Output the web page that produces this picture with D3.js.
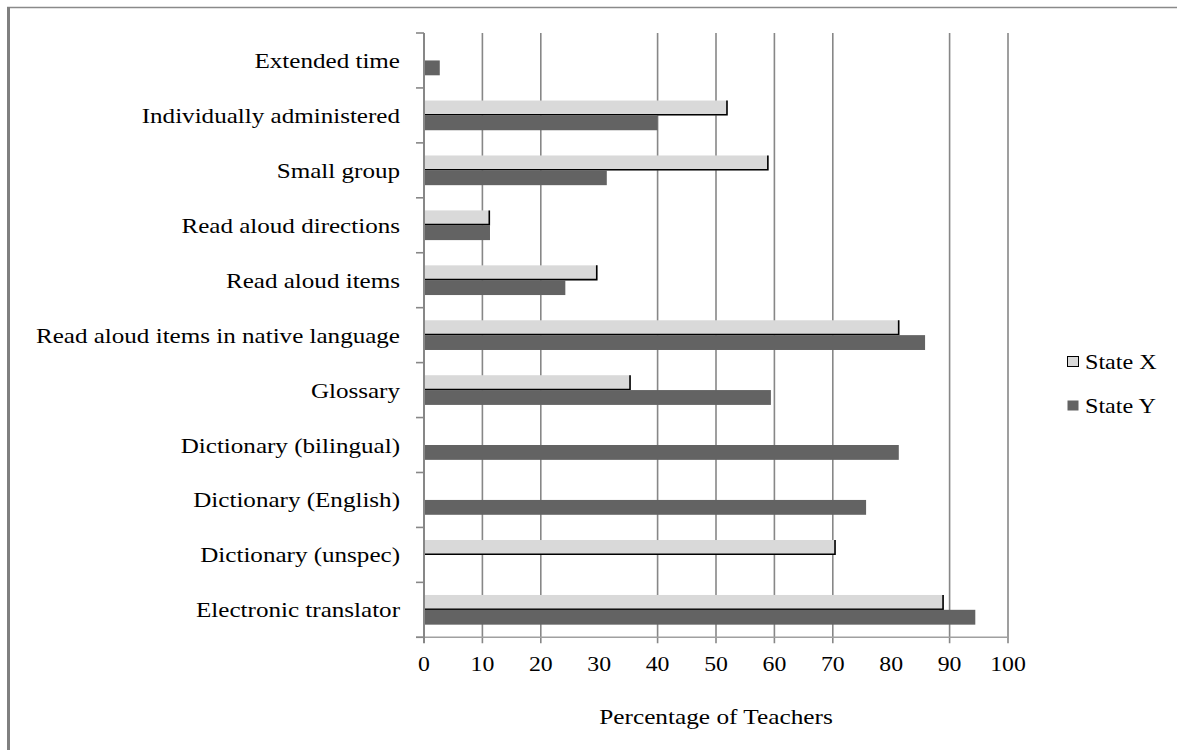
<!DOCTYPE html>
<html>
<head>
<meta charset="utf-8">
<script src="https://cdn.jsdelivr.net/npm/d3@7"></script>
<style>
  html, body { margin: 0; padding: 0; background: #fff; }
  svg { display: block; }
</style>
</head>
<body>
<svg id="chart" width="1177" height="750"></svg>
<script>
// ---- data ----
const categories = [
  "Extended time",
  "Individually administered",
  "Small group",
  "Read aloud directions",
  "Read aloud items",
  "Read aloud items in native language",
  "Glossary",
  "Dictionary (bilingual)",
  "Dictionary (English)",
  "Dictionary (unspec)",
  "Electronic translator"
];
const seriesNames = ["State X", "State Y"];
const stateX = [0, 52, 59, 11.3, 29.7, 81.4, 35.4, 0, 0, 70.5, 89];
const stateY = [2.7, 40, 31.3, 11.3, 24.2, 85.8, 59.4, 81.3, 75.7, 0, 94.4];
const xTicks = [0, 10, 20, 30, 40, 50, 60, 70, 80, 90, 100];
const gridTicks = [10, 20, 40, 50, 60, 70, 90, 100];
const xTitle = "Percentage of Teachers";

// ---- layout ----
const svg = d3.select("#chart");
const pL = 424, pR = 1008, pT = 33, pB = 637.3;
const gridColor = "#878787";
const fillX = "#d9d9d9", fillY = "#636363";
const FONT = "Liberation Serif";

const x = d3.scaleLinear().domain([0, 100]).range([pL, pR]);
const y = d3.scaleBand().domain(categories).range([pT, pB]).padding(0);
const ys = d3.scaleBand().domain(seriesNames).range([12.6, 42.3]);

// text placed at (tx,ty), stretched horizontally by sx
function addText(parent, tx, ty, str, size, sx, anchor) {
  const gg = parent.append("g").attr("transform", `translate(${tx},${ty}) scale(${sx},1)`);
  gg.append("text")
    .attr("x", 0).attr("y", 0)
    .attr("font-family", FONT).attr("font-size", size)
    .attr("text-anchor", anchor).attr("fill", "#000")
    .text(str);
  return gg;
}

// outer frame
svg.append("line").attr("x1", 7).attr("x2", 1177).attr("y1", 7.5).attr("y2", 7.5)
  .attr("stroke", "#8a8a8a").attr("stroke-width", 1.5);
svg.append("line").attr("x1", 8.5).attr("x2", 8.5).attr("y1", 7).attr("y2", 750)
  .attr("stroke", "#808080").attr("stroke-width", 3);

// gridlines
svg.append("g").selectAll("line").data(gridTicks).join("line")
  .attr("x1", d => x(d)).attr("x2", d => x(d))
  .attr("y1", pT).attr("y2", pB + 6)
  .attr("stroke", gridColor).attr("stroke-width", 1.6);

// bottom axis line
svg.append("line").attr("x1", pL - 8).attr("x2", pR).attr("y1", pB).attr("y2", pB)
  .attr("stroke", "#a0a0a0").attr("stroke-width", 1.5);

// x axis tick labels (positions from the d3 axis scale)
const xAxis = d3.axisBottom(x).tickValues(xTicks);
const xl = svg.append("g");
xAxis.tickValues().forEach(v => {
  addText(xl, x(v), pB + 34, xAxis.tickFormat() ? xAxis.tickFormat()(v) : x.tickFormat()(v), 22, 1.08, "middle");
});

// x title
addText(svg, 716, 724, xTitle, 22, 1.15, "middle");

// bars
const rows = categories.map((c, i) => ({ c, vals: [stateX[i], stateY[i]] }));
const g = svg.append("g");
rows.forEach(r => {
  r.vals.forEach((v, si) => {
    if (!v) return;
    const s = seriesNames[si];
    const y0 = y(r.c) + ys(s), h = ys.bandwidth();
    g.append("rect").attr("x", x(0)).attr("y", y0)
      .attr("width", x(v) - x(0)).attr("height", h)
      .attr("fill", si === 0 ? fillX : fillY);
    if (si === 0) {
      g.append("path")
        .attr("d", `M${x(0)},${y0 + h - 0.6}H${x(v) - 0.7}V${y0}`)
        .attr("fill", "none").attr("stroke", "#000").attr("stroke-width", 1.6);
    }
  });
});

// left axis
svg.append("line").attr("x1", pL).attr("x2", pL).attr("y1", pT).attr("y2", pB + 6)
  .attr("stroke", gridColor).attr("stroke-width", 2);
const bounds = d3.range(categories.length + 1).map(i => pT + i * y.step());
svg.append("g").selectAll("line").data(bounds).join("line")
  .attr("x1", pL - 8).attr("x2", pL).attr("y1", d => d).attr("y2", d => d)
  .attr("stroke", gridColor).attr("stroke-width", 1.6);

// category labels
const cl = svg.append("g");
categories.forEach(c => {
  addText(cl, 400, y(c) + y.bandwidth() / 2 + 7.5, c, 22, 1.14, "end");
});

// legend
const legend = svg.append("g");
seriesNames.forEach((s, i) => {
  const ly = 362 + i * 44;
  legend.append("rect").attr("x", 1067.5).attr("y", ly - 5.5).attr("width", 11).attr("height", 10)
    .attr("fill", i === 0 ? fillX : fillY)
    .attr("stroke", i === 0 ? "#000" : "none").attr("stroke-width", 1);
  addText(legend, 1085, ly + 7, s, 21, 1.15, "start");
});
</script>
</body>
</html>
